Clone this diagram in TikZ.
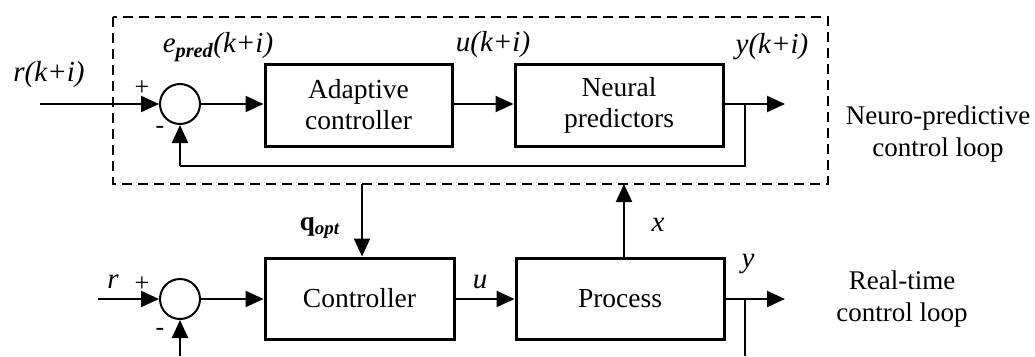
\documentclass[tikz,border=0pt]{standalone}
\usepackage{fontspec}
\setmainfont{Liberation Serif}
\usetikzlibrary{arrows.meta}
\begin{document}
\begin{tikzpicture}[x=1pt,y=-1pt,
  blk/.style={draw,line width=3pt,minimum width=#1,minimum height=82pt,inner sep=0pt,align=center,font=\fontsize{27.5}{31}\selectfont},
  sumc/.style={draw,circle,line width=2pt,minimum size=40pt,inner sep=0pt},
  conn/.style={line width=2pt},
  arr/.style={line width=2.2pt,-{Triangle[length=18pt,width=16pt]}},
  lab/.style={font=\fontsize{29}{33}\selectfont\itshape,inner sep=0pt},
  sgn/.style={font=\fontsize{26}{28}\selectfont,inner sep=0pt},
  txt/.style={font=\fontsize{27}{32}\selectfont,align=center,inner sep=0pt}]
\useasboundingbox (0,0) rectangle (1035,356);
% dashed region
\draw[line width=2.8pt,dash pattern=on 10pt off 6pt] (113,17) rectangle (828,184);
% upper loop
\node[sumc] (s1) at (180,104) {};
\node[blk=187pt] (ac) at (358.5,105) {Adaptive\\controller};
\node[blk=208pt] (np) at (619,105) {Neural\\predictors};
\coordinate (in1) at (40,104);
\coordinate (b1) at (745,104);
\coordinate (o1) at (785,104);
\coordinate (f1) at (745,166);
\coordinate (f1b) at (180,166);
\draw[arr] (in1) -- (s1.west);
\draw[arr] (s1.east) -- (s1.east -| ac.west);
\draw[arr] (ac.east |- s1.east) -- (s1.east -| np.west);
\draw[arr] (np.east |- b1) -- (o1);
\draw[conn] (b1) -- (f1) -- (f1b);
\draw[arr] (f1b) -- (s1.south);
\node[lab] (l1) at (49,75) {r(k+i)};
\node[sgn] (p1) at (142,88) {+};
\node[sgn] (m1) at (160,130) {-};
\node[lab] (l2) at (218,47) {e\textsubscript{\textbf{pred}}(k+i)};
\node[lab] (l3) at (493,45) {u(k+i)};
\node[lab] (l4) at (772,47) {y(k+i)};
\node[txt] (t1) at (938,134) {Neuro-predictive\\control loop};
% lower loop
\node[sumc] (s2) at (180,299) {};
\node[blk=189pt,minimum height=81pt] (ct) at (359.5,298.5) {Controller};
\node[blk=208pt,minimum height=81pt] (pr) at (620,298.5) {Process};
\coordinate (in2) at (98,299);
\coordinate (b2) at (745,299);
\coordinate (o2) at (785,299);
\coordinate (f2) at (745,356);
\coordinate (f3) at (180,356);
\coordinate (q1) at (362,184);
\coordinate (x1) at (624,184);
\draw[arr] (in2) -- (s2.west);
\draw[arr] (s2.east) -- (s2.east -| ct.west);
\draw[arr] (ct.east |- s2.east) -- (s2.east -| pr.west);
\draw[arr] (pr.east |- b2) -- (o2);
\draw[conn] (b2) -- (f2);
\draw[arr] (f3) -- (s2.south);
\draw[arr] (q1) -- (q1 |- ct.north);
\draw[arr] (x1 |- pr.north) -- (x1);
\node[font=\fontsize{27}{31}\selectfont,inner sep=0pt] (l5) at (320,228) {\textbf{q}\textsubscript{\textbf{\textit{opt}}}};
\node[lab] (l6) at (658,225) {x};
\node[lab] (l7) at (480,282) {u};
\node[lab] (l8) at (748,264) {y};
\node[lab] (l9) at (113,282) {r};
\node[sgn] (p2) at (142,284) {+};
\node[sgn] (m2) at (160,332) {-};
\node[txt] (t2) at (902,299) {Real-time\\control loop};
\end{tikzpicture}
\end{document}
